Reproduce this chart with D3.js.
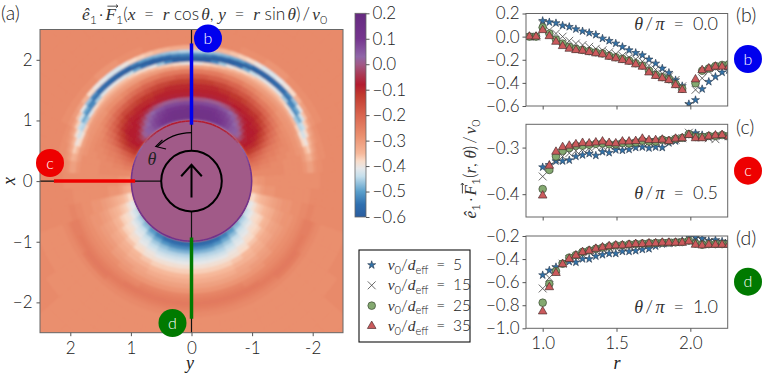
<!DOCTYPE html>
<html lang="en">
<head>
<meta charset="UTF-8">
<title>Force map</title>
<script src="https://d3js.org/d3.v7.min.js"></script>
<style>
  html, body { margin: 0; padding: 0; background: #fff; }
  svg { display: block; }
  text { font-family: Lato, "Open Sans", sans-serif; font-weight: 300; fill: #222; }
  .axis text { font-size: 17px; }
  .axis line, .axis path { stroke: #555; stroke-width: 1; }
</style>
</head>
<body>
<svg width="763" height="374"></svg>
<script>
// radial cuts, shared by the three right panels
const rValues = [0.91,0.955,1.0,1.045,1.09,1.135,1.18,1.225,1.27,1.315,1.36,1.405,1.45,1.495,1.54,1.585,1.63,1.675,1.72,1.765,1.81,1.855,1.9,1.945,1.99,2.035,2.08,2.125,2.17,2.215,2.26];

// panel b, theta/pi = 0
const b5  = [0,0,.137,.125,.117,.096,.085,.065,.047,.033,.016,-.016,-.036,-.059,-.088,-.117,-.14,-.16,-.197,-.232,-.275,-.312,-.376,-.427,-.583,-.548,-.453,-.39,-.347,-.309,-.29];
const b15 = [0,0,.108,.056,.027,0,-.036,-.059,-.073,-.088,-.105,-.118,-.135,-.15,-.165,-.18,-.195,-.215,-.25,-.285,-.32,-.345,-.375,-.43,-.6,-.46,-.36,-.30,-.275,-.26,-.25];
const b25 = [0,0,.08,.027,-.025,-.06,-.088,-.105,-.115,-.125,-.135,-.145,-.165,-.178,-.192,-.207,-.23,-.25,-.295,-.33,-.35,-.368,-.41,-.45,-.65,-.404,-.295,-.275,-.255,-.245,-.24];
const b35 = [0,0,.056,.004,-.045,-.082,-.105,-.117,-.122,-.134,-.145,-.154,-.174,-.188,-.203,-.217,-.24,-.26,-.31,-.34,-.36,-.376,-.42,-.462,-.65,-.37,-.29,-.275,-.26,-.26,-.26];

// panel c, theta/pi = 0.5
const c5  = [0,0,-.342,-.337,-.329,-.329,-.327,-.319,-.316,-.313,-.317,-.309,-.311,-.305,-.306,-.304,-.30,-.299,-.301,-.299,-.30,-.29,-.286,-.28,-.271,-.269,-.273,-.277,-.274,-.274,-.275];
const c15 = [0,0,-.362,-.344,-.326,-.319,-.312,-.307,-.304,-.301,-.298,-.297,-.296,-.295,-.293,-.292,-.29,-.289,-.288,-.288,-.287,-.285,-.283,-.28,-.268,-.273,-.278,-.28,-.282,-.276,-.275];
const c25 = [0,0,-.389,-.348,-.319,-.307,-.301,-.296,-.296,-.294,-.292,-.291,-.293,-.293,-.29,-.291,-.289,-.285,-.287,-.287,-.283,-.285,-.281,-.279,-.271,-.277,-.277,-.275,-.275,-.273,-.275];
const c35 = [0,0,-.403,-.339,-.309,-.299,-.296,-.293,-.29,-.291,-.289,-.287,-.29,-.291,-.287,-.287,-.286,-.281,-.284,-.284,-.283,-.286,-.281,-.28,-.273,-.28,-.28,-.276,-.274,-.273,-.276];

// panel d, theta/pi = 1
const d5  = [0,0,-.539,-.498,-.469,-.439,-.422,-.428,-.399,-.399,-.375,-.363,-.352,-.352,-.334,-.334,-.328,-.317,-.311,-.288,-.27,-.264,-.253,-.241,-.206,-.212,-.223,-.241,-.235,-.247,-.25];
const d15 = [0,0,-.655,-.562,-.489,-.44,-.40,-.38,-.36,-.34,-.33,-.315,-.305,-.30,-.295,-.29,-.28,-.275,-.27,-.265,-.262,-.26,-.255,-.25,-.225,-.23,-.245,-.25,-.255,-.26,-.26];
const d25 = [0,0,-.778,-.615,-.504,-.44,-.387,-.365,-.338,-.325,-.31,-.30,-.29,-.28,-.278,-.272,-.268,-.265,-.262,-.26,-.258,-.256,-.255,-.252,-.24,-.265,-.275,-.27,-.27,-.27,-.27];
const d35 = [0,0,-.854,-.644,-.521,-.445,-.399,-.369,-.34,-.328,-.311,-.299,-.288,-.282,-.282,-.276,-.27,-.27,-.264,-.264,-.258,-.258,-.258,-.258,-.247,-.276,-.282,-.276,-.276,-.276,-.276];

const speeds = ["5", "15", "25", "35"];

// heat map read in polar form: angle from +x, rings in r, mirrored in y
const thetaRows = [0,3.75,7.5,11.25,15,18.75,22.5,26.25,30,33.75,37.5,41.25,45,48.75,52.5,56.25,60,63.75,67.5,71.25,75,78.75,82.5,90,97.5,105,112.5,120,127.5,135,142.5,150,157.5,165,172.5,180];
const ringEdges = [1.0,1.03,1.09,1.15,1.21,1.27,1.33,1.39,1.46,1.54,1.62,1.7,1.78,1.86,1.925,1.975,2.025,2.075,2.125,2.175,2.25,2.375,2.525,2.7,2.9,3.15,3.45,3.8];
const fieldRows = [
  [.06,.14,.14,.13,.11,.07,0,-.07,-.09,-.10,-.13,-.18,-.24,-.31,-.40,-.60,-.58,-.52,-.45,-.33,-.27,-.27,-.27,-.27,-.27,-.27,-.27],
  [.06,.14,.14,.13,.11,.07,0,-.07,-.09,-.10,-.13,-.18,-.24,-.31,-.40,-.60,-.58,-.52,-.45,-.33,-.27,-.27,-.27,-.27,-.27,-.27,-.27],
  [.06,.14,.14,.13,.11,.07,0,-.07,-.09,-.10,-.13,-.18,-.24,-.31,-.38,-.58,-.60,-.53,-.46,-.33,-.27,-.27,-.27,-.27,-.27,-.27,-.27],
  [.06,.14,.14,.13,.10,.07,.01,-.07,-.09,-.10,-.13,-.19,-.24,-.30,-.37,-.52,-.60,-.55,-.47,-.34,-.27,-.27,-.27,-.27,-.27,-.27,-.27],
  [.05,.14,.14,.13,.10,.07,.01,-.07,-.09,-.10,-.14,-.19,-.24,-.30,-.36,-.46,-.60,-.57,-.48,-.35,-.27,-.27,-.27,-.27,-.27,-.27,-.27],
  [.05,.13,.13,.12,.10,.07,.01,-.07,-.09,-.11,-.14,-.19,-.25,-.30,-.35,-.41,-.59,-.59,-.49,-.36,-.27,-.27,-.27,-.27,-.27,-.27,-.27],
  [.04,.12,.12,.11,.09,.06,0,-.07,-.09,-.11,-.15,-.20,-.25,-.30,-.34,-.39,-.55,-.60,-.50,-.37,-.28,-.27,-.27,-.27,-.27,-.27,-.27],
  [.04,.11,.10,.09,.08,.05,-.01,-.07,-.10,-.12,-.16,-.20,-.25,-.30,-.33,-.38,-.49,-.60,-.53,-.38,-.28,-.27,-.27,-.27,-.27,-.27,-.27],
  [.03,.09,.09,.08,.06,.03,-.03,-.08,-.10,-.12,-.17,-.21,-.26,-.30,-.33,-.37,-.44,-.60,-.56,-.40,-.28,-.27,-.27,-.27,-.27,-.27,-.27],
  [.03,.07,.07,.06,.04,.01,-.05,-.08,-.10,-.13,-.17,-.22,-.26,-.30,-.33,-.36,-.42,-.59,-.57,-.42,-.29,-.27,-.27,-.27,-.27,-.27,-.27],
  [.02,.05,.05,.03,.01,-.03,-.07,-.09,-.10,-.14,-.18,-.23,-.27,-.30,-.33,-.36,-.41,-.58,-.57,-.42,-.29,-.27,-.27,-.27,-.27,-.27,-.27],
  [0,.04,.04,.01,-.03,-.06,-.08,-.09,-.11,-.15,-.19,-.24,-.28,-.30,-.33,-.36,-.41,-.57,-.56,-.41,-.29,-.27,-.27,-.27,-.27,-.27,-.27],
  [-.03,.02,.01,-.03,-.07,-.08,-.08,-.09,-.11,-.15,-.20,-.24,-.28,-.30,-.33,-.36,-.42,-.56,-.55,-.40,-.28,-.27,-.27,-.27,-.27,-.27,-.27],
  [-.05,-.02,-.04,-.07,-.08,-.08,-.09,-.10,-.13,-.17,-.21,-.25,-.28,-.30,-.33,-.37,-.46,-.55,-.52,-.38,-.28,-.27,-.27,-.27,-.27,-.27,-.27],
  [-.08,-.07,-.07,-.08,-.08,-.08,-.09,-.11,-.15,-.19,-.23,-.26,-.29,-.30,-.33,-.39,-.52,-.53,-.47,-.34,-.28,-.27,-.27,-.27,-.27,-.27,-.27],
  [-.09,-.08,-.08,-.08,-.09,-.10,-.12,-.14,-.18,-.21,-.24,-.27,-.29,-.30,-.34,-.42,-.52,-.49,-.41,-.31,-.28,-.27,-.27,-.27,-.27,-.27,-.27],
  [-.10,-.10,-.10,-.10,-.11,-.13,-.15,-.18,-.21,-.23,-.26,-.28,-.29,-.30,-.35,-.46,-.49,-.43,-.36,-.30,-.28,-.27,-.27,-.27,-.27,-.27,-.27],
  [-.13,-.12,-.13,-.14,-.15,-.17,-.19,-.21,-.23,-.25,-.27,-.28,-.29,-.30,-.37,-.45,-.44,-.37,-.32,-.29,-.28,-.27,-.27,-.27,-.27,-.27,-.27],
  [-.17,-.17,-.18,-.19,-.20,-.22,-.23,-.24,-.25,-.26,-.27,-.28,-.29,-.31,-.39,-.43,-.39,-.33,-.30,-.28,-.27,-.27,-.27,-.27,-.27,-.27,-.27],
  [-.20,-.20,-.21,-.22,-.23,-.24,-.25,-.25,-.26,-.27,-.27,-.28,-.29,-.31,-.38,-.40,-.35,-.31,-.29,-.28,-.27,-.27,-.27,-.27,-.27,-.27,-.27],
  [-.22,-.23,-.23,-.24,-.25,-.25,-.26,-.26,-.27,-.27,-.28,-.28,-.29,-.30,-.35,-.37,-.33,-.30,-.28,-.28,-.27,-.27,-.27,-.27,-.27,-.27,-.27],
  [-.25,-.25,-.25,-.26,-.26,-.26,-.27,-.27,-.27,-.28,-.28,-.28,-.28,-.30,-.33,-.34,-.31,-.29,-.28,-.28,-.27,-.27,-.27,-.27,-.27,-.27,-.27],
  [-.28,-.27,-.27,-.27,-.27,-.27,-.27,-.27,-.27,-.28,-.28,-.28,-.28,-.29,-.31,-.31,-.29,-.28,-.28,-.27,-.27,-.27,-.27,-.27,-.27,-.27,-.27],
  [-.31,-.30,-.29,-.29,-.28,-.28,-.28,-.28,-.28,-.28,-.28,-.28,-.28,-.28,-.28,-.28,-.28,-.28,-.27,-.27,-.27,-.27,-.27,-.27,-.27,-.27,-.27],
  [-.34,-.33,-.32,-.30,-.29,-.29,-.29,-.28,-.28,-.28,-.28,-.28,-.28,-.28,-.28,-.27,-.27,-.27,-.27,-.27,-.27,-.27,-.27,-.27,-.27,-.27,-.27],
  [-.38,-.38,-.36,-.35,-.34,-.33,-.32,-.31,-.30,-.29,-.29,-.28,-.28,-.27,-.27,-.26,-.26,-.27,-.27,-.27,-.27,-.27,-.27,-.27,-.27,-.27,-.27],
  [-.42,-.41,-.39,-.37,-.36,-.35,-.34,-.33,-.31,-.30,-.29,-.29,-.28,-.27,-.26,-.25,-.25,-.25,-.26,-.27,-.28,-.28,-.28,-.27,-.27,-.27,-.27],
  [-.45,-.43,-.41,-.39,-.38,-.37,-.35,-.34,-.32,-.31,-.30,-.29,-.28,-.27,-.26,-.25,-.24,-.25,-.26,-.27,-.28,-.28,-.28,-.27,-.27,-.27,-.27],
  [-.48,-.45,-.43,-.41,-.39,-.38,-.37,-.35,-.33,-.32,-.30,-.29,-.28,-.27,-.26,-.25,-.24,-.24,-.25,-.27,-.28,-.28,-.28,-.28,-.27,-.27,-.27],
  [-.50,-.47,-.44,-.42,-.41,-.39,-.38,-.36,-.34,-.33,-.31,-.30,-.28,-.27,-.26,-.25,-.24,-.24,-.25,-.27,-.28,-.28,-.28,-.28,-.28,-.28,-.28],
  [-.53,-.50,-.47,-.44,-.42,-.41,-.39,-.38,-.35,-.34,-.32,-.30,-.29,-.27,-.26,-.25,-.24,-.25,-.26,-.27,-.28,-.28,-.28,-.28,-.28,-.28,-.28],
  [-.55,-.53,-.49,-.46,-.44,-.42,-.40,-.39,-.36,-.34,-.32,-.31,-.29,-.27,-.26,-.24,-.24,-.25,-.26,-.27,-.28,-.28,-.28,-.28,-.28,-.28,-.28],
  [-.57,-.55,-.51,-.47,-.45,-.43,-.41,-.39,-.37,-.35,-.33,-.31,-.29,-.26,-.25,-.24,-.24,-.25,-.26,-.27,-.28,-.28,-.28,-.28,-.28,-.28,-.28],
  [-.58,-.56,-.52,-.48,-.45,-.43,-.41,-.39,-.37,-.35,-.33,-.31,-.29,-.26,-.25,-.24,-.24,-.25,-.26,-.27,-.28,-.28,-.28,-.28,-.28,-.28,-.28],
  [-.58,-.56,-.52,-.48,-.45,-.43,-.41,-.39,-.37,-.35,-.33,-.31,-.29,-.26,-.25,-.24,-.24,-.25,-.26,-.27,-.28,-.28,-.28,-.28,-.28,-.28,-.28],
  [-.58,-.56,-.52,-.48,-.45,-.43,-.41,-.39,-.37,-.35,-.33,-.31,-.29,-.26,-.25,-.24,-.24,-.25,-.26,-.27,-.28,-.28,-.28,-.28,-.28,-.28,-.28]
];
// thin rim of the excluded disc
const rimValues = [-.08,-.08,-.08,-.08,-.08,-.08,-.08,-.08,-.07,-.07,-.06,-.05,-.04,-.02,0,.02,.04,.05,.07,.08,.1,.1,.11,.12,.12,.12,.12,.12,.12,.12,.12,.12,.12,.12,.12,.12];

const colorStops  = [-.6,-.55,-.5,-.44,-.41,-.38,-.35,-.28,-.2,-.12,-.08,-.04,0,.03,.1,.2];
const colorValues = ["#2a5d9e","#2f70b0","#5a9fcb","#c5dfec","#e5e8ea","#f9dcc9","#f6b89a","#ea8f6e","#d9654f","#c0392f","#b31b2f","#aa3a55","#a15a88","#8f66a8","#75358e","#652a80"];

const fieldTicks = [2, 1, 0, -1, -2];
const barTicks = [.2, .1, 0, -.1, -.2, -.3, -.4, -.5, -.6];
const rTicks = [1, 1.5, 2];

const svg = d3.select("svg");
const color = d3.scaleLinear().domain(colorStops).range(colorValues).clamp(true);
const fmtMinus = d => d3.format(".1f")(d).replace("-", "\u2212");
const serif = "'Liberation Serif', serif";

// math text helper, parts are [string, kind]. kind "F" gets a small arrow over it
function addParts(parent, x, y, size, anchor, parts) {
  const t = parent.append("text").attr("x", x).attr("y", y).attr("text-anchor", anchor).style("font-size", size + "px");
  let shift = 0, count = 0, arrowAt = -1;
  parts.forEach(([s, kind]) => {
    const span = t.append("tspan").text(s);
    const isSub = kind === "sub";
    const want = isSub ? 3.5 : 0;
    span.attr("dy", want - shift);
    shift = want;
    if (isSub) span.style("font-size", "0.72em");
    if (kind === "i" || kind === "F") span.style("font-family", serif).style("font-style", "italic").style("font-weight", 400).style("fill", "#333");
    if (kind === "F") arrowAt = count;
    count += s.length;
  });
  if (arrowAt >= 0) {
    const a = t.node().getStartPositionOfChar(arrowAt), b = t.node().getEndPositionOfChar(arrowAt);
    const top = a.y - size * 0.8, x0 = a.x + 2, x1 = b.x + 2;
    parent.append("path").attr("fill", "none").attr("stroke", "#222").attr("stroke-width", .8)
      .attr("d", `M${x0},${top}L${x1},${top}M${x1 - 2},${top - 1.6}L${x1},${top}L${x1 - 2},${top + 1.6}`);
  }
  return t;
}

// ---------- heat map
const fx = { left: 40, right: 343, top: 29.5, bottom: 332.7 };
const yScale = d3.scaleLinear().domain([2.5, -2.5]).range([fx.left, fx.right]);
const xScale = d3.scaleLinear().domain([2.5, -2.5]).range([fx.top, fx.bottom]);
const rPx = d3.scaleLinear().domain([0, 2.5]).range([0, (fx.right - fx.left) / 2]);

svg.append("clipPath").attr("id", "fieldClip").append("rect")
  .attr("x", fx.left).attr("y", fx.top).attr("width", fx.right - fx.left).attr("height", fx.bottom - fx.top);
svg.append("filter").attr("id", "soft").attr("x", "-5%").attr("y", "-5%").attr("width", "110%").attr("height", "110%")
  .append("feGaussianBlur").attr("stdDeviation", 1.2);

const heat = svg.append("g").attr("clip-path", "url(#fieldClip)")
  .append("g").attr("filter", "url(#soft)")
  .attr("transform", `translate(${yScale(0)},${xScale(0)})`);
const arc = d3.arc();
// wedge limits half way to the next row, in radians
const wedge = i => {
  const lo = i === 0 ? 0 : (thetaRows[i - 1] + thetaRows[i]) / 2;
  const hi = i === thetaRows.length - 1 ? 180 : (thetaRows[i + 1] + thetaRows[i]) / 2;
  return [lo * Math.PI / 180, hi * Math.PI / 180];
};

heat.append("rect").attr("x", -170).attr("y", -170).attr("width", 340).attr("height", 340).attr("fill", color(-.27));
fieldRows.forEach((row, i) => {
  const [lo, hi] = wedge(i);
  row.forEach((v, j) => {
    [1, -1].forEach(side => {
      heat.append("path")
        .attr("d", arc({ innerRadius: rPx(ringEdges[j]), outerRadius: rPx(ringEdges[j + 1]), startAngle: side * lo, endAngle: side * hi }))
        .attr("fill", color(v)).attr("stroke", color(v)).attr("stroke-width", 0.6);
    });
  });
});

const disc = svg.append("g").attr("transform", `translate(${yScale(0)},${xScale(0)})`);
disc.append("circle").attr("r", rPx(1)).attr("fill", color(0));
rimValues.forEach((v, i) => {
  const [lo, hi] = wedge(i);
  [1, -1].forEach(side => {
    disc.append("path")
      .attr("d", arc({ innerRadius: rPx(.98), outerRadius: rPx(1.005), startAngle: side * lo, endAngle: side * hi }))
      .attr("fill", color(v));
  });
});

// guide lines
const guides = svg.append("g").attr("stroke", "#111").attr("stroke-width", 1.2).attr("fill", "none");
guides.append("line").attr("x1", yScale(0)).attr("x2", yScale(0)).attr("y1", xScale(2.5)).attr("y2", xScale(.5));
guides.append("line").attr("x1", yScale(0)).attr("x2", yScale(0)).attr("y1", xScale(-.5)).attr("y2", xScale(-2.5));
guides.append("line").attr("x1", yScale(2.5)).attr("x2", yScale(.5)).attr("y1", xScale(0)).attr("y2", xScale(0));

const cuts = [
  { c: "#0000ee", x1: .93, x2: 2.27, y1: 0, y2: 0 },
  { c: "#ee0000", x1: 0, x2: 0, y1: .93, y2: 2.27 },
  { c: "#007a00", x1: -.93, x2: -2.27, y1: 0, y2: 0 }
];
cuts.forEach(d => {
  svg.append("line").attr("stroke", d.c).attr("stroke-width", 3.5)
    .attr("x1", yScale(d.y1)).attr("x2", yScale(d.y2)).attr("y1", xScale(d.x1)).attr("y2", xScale(d.x2));
});

// swimmer sketch
const ink = svg.append("g").attr("fill", "none").attr("stroke", "#000");
ink.append("circle").attr("cx", yScale(0)).attr("cy", xScale(0)).attr("r", rPx(.5)).attr("stroke-width", 2);
ink.append("path").attr("stroke-width", 2)
  .attr("d", `M${yScale(0)},${xScale(-.27)}L${yScale(0)},${xScale(.27)}M${yScale(.17)},${xScale(.08)}L${yScale(0)},${xScale(.27)}L${yScale(-.17)},${xScale(.08)}`);
const thArc = d3.path();
thArc.arc(yScale(0), xScale(0), rPx(.8), -Math.PI / 2, -Math.PI * 3 / 4, true);
ink.append("path").attr("d", thArc.toString()).attr("stroke-width", 1.1);
ink.append("path").attr("stroke-width", 1.1)
  .attr("d", `M${yScale(.48)},${xScale(.68)}L${yScale(.59)},${xScale(.57)}L${yScale(.42)},${xScale(.53)}`);
svg.append("text").attr("x", 152).attr("y", 165).style("font-family", serif).style("font-weight", 400)
  .style("font-style", "italic").style("font-size", "18px").attr("text-anchor", "middle").text("\u03b8");

svg.append("rect").attr("x", fx.left).attr("y", fx.top).attr("width", fx.right - fx.left).attr("height", fx.bottom - fx.top)
  .attr("fill", "none").attr("stroke", "#666").attr("stroke-width", 1);

const leftAxis = svg.append("g").attr("class", "axis").attr("transform", `translate(${fx.left},0)`)
  .call(d3.axisLeft(xScale).tickValues(fieldTicks).tickSize(3.5).tickPadding(4).tickFormat(d => d < 0 ? "\u2212" + (-d) : d));
const botAxis = svg.append("g").attr("class", "axis").attr("transform", `translate(0,${fx.bottom})`)
  .call(d3.axisBottom(yScale).tickValues(fieldTicks).tickSize(3.5).tickPadding(6).tickFormat(d => d));
leftAxis.select(".domain").remove();
botAxis.select(".domain").remove();

// marked circles, three on the map and three by the panels
const badges = [
  { label: "b", c: "#0000ee", x: 208, y: 38.5 }, { label: "c", c: "#ee0000", x: 50, y: 163 }, { label: "d", c: "#007a00", x: 172.5, y: 323 },
  { label: "b", c: "#0000ee", x: 748, y: 59 }, { label: "c", c: "#ee0000", x: 748, y: 170.7 }, { label: "d", c: "#007a00", x: 748, y: 281.7 }
];
badges.forEach(d => {
  svg.append("circle").attr("cx", d.x).attr("cy", d.y).attr("r", 14).attr("fill", d.c);
  svg.append("text").attr("x", d.x).attr("y", d.y + 5.5).attr("text-anchor", "middle")
    .style("fill", "#fff").style("font-size", "16px").text(d.label);
});

// labels
[["(a)", 1, 20], ["(b)", 736, 22], ["(c)", 736, 134], ["(d)", 736, 245]].forEach(([s, x, y]) => {
  svg.append("text").attr("x", x).attr("y", y).style("font-size", "19.5px").text(s);
});
const eq = "\u2002=\u2002";
addParts(svg, 82, 20, 17.3, "start",
  [["\u00ea", "i"], ["1", "sub"], ["\u2009\u00b7\u2009", ""], ["F", "F"], ["1", "sub"], ["(", ""], ["x", "i"], [eq, ""], ["r", "i"], [" cos\u2009", ""], ["\u03b8", "i"], [", ", ""], ["y", "i"], [eq, ""], ["r", "i"], [" sin\u2009", ""], ["\u03b8", "i"], [")\u2009/\u2009", ""], ["v", "i"], ["0", "sub"]]);
svg.append("text").attr("x", 15).attr("y", 181).attr("transform", "rotate(-90 15 181)").attr("text-anchor", "middle")
  .style("font-family", serif).style("font-weight", 400).style("font-style", "italic").style("font-size", "18px").text("x");
svg.append("text").attr("x", 190).attr("y", 369).attr("text-anchor", "middle")
  .style("font-family", serif).style("font-weight", 400).style("font-style", "italic").style("font-size", "18px").text("y");

// ---------- colour bar
const bar = { x: 355, w: 11, top: 13.3, bottom: 217 };
const barScale = d3.scaleLinear().domain([-.6, .2]).range([bar.bottom, bar.top]);
const grad = svg.append("linearGradient").attr("id", "barGrad").attr("x1", 0).attr("x2", 0).attr("y1", 1).attr("y2", 0);
colorStops.forEach((s, i) => grad.append("stop").attr("offset", (s + .6) / .8).attr("stop-color", colorValues[i]));
svg.append("rect").attr("x", bar.x).attr("y", bar.top).attr("width", bar.w).attr("height", bar.bottom - bar.top)
  .attr("fill", "url(#barGrad)").attr("stroke", "#666").attr("stroke-width", .8);
const barAxis = svg.append("g").attr("class", "axis").attr("transform", `translate(${bar.x + bar.w},0)`)
  .call(d3.axisRight(barScale).tickValues(barTicks).tickSize(3.5).tickPadding(3).tickFormat(fmtMinus));
barAxis.select(".domain").remove();

// ---------- right panels
const panelX = d3.scaleLinear().domain([.887, 2.253]).range([526, 727.7]);
const panels = [
  { id: "b", series: [b5, b15, b25, b35], domain: [-.6, .2], top: 13.5, bottom: 106, ticks: [.2, 0, -.2, -.4, -.6], note: "0.0", noteY: 30, fmt: fmtMinus },
  { id: "c", series: [c5, c15, c25, c35], domain: [-.449, -.25], top: 124.3, bottom: 217, ticks: [-.3, -.4], note: "0.5", noteY: 199, fmt: d3.format(".1f") },
  { id: "d", series: [d5, d15, d25, d35], domain: [-1, -.2], top: 236, bottom: 328.3, ticks: [-.2, -.4, -.6, -.8, -1], note: "1.0", noteY: 313, fmt: fmtMinus }
];

const starPath = d3.symbol().type(d3.symbolStar).size(20)();
const timesPath = d3.symbol().type(d3.symbolTimes).size(42)();
const circlePath = d3.symbol().type(d3.symbolCircle).size(46)();
const trianglePath = d3.symbol().type(d3.symbolTriangle).size(32)();
const markers = [
  { d: starPath, fill: "#3272a8", stroke: "#26364a", sw: .6 },
  { d: timesPath, fill: "none", stroke: "#444", sw: .8 },
  { d: circlePath, fill: "#84a970", stroke: "#3c4a35", sw: .7 },
  { d: trianglePath, fill: "#cb5a5c", stroke: "#4d3030", sw: .7 }
];

panels.forEach(p => {
  const y = d3.scaleLinear().domain(p.domain).range([p.bottom, p.top]);
  svg.append("clipPath").attr("id", "clip" + p.id).append("rect")
    .attr("x", panelX.range()[0]).attr("y", p.top).attr("width", panelX.range()[1] - panelX.range()[0]).attr("height", p.bottom - p.top);
  const plot = svg.append("g").attr("clip-path", `url(#clip${p.id})`);
  p.series.forEach((vals, k) => {
    plot.append("g").selectAll("path").data(vals).join("path")
      .attr("d", markers[k].d)
      .attr("transform", (v, i) => `translate(${panelX(rValues[i])},${y(v)})`)
      .attr("fill", markers[k].fill).attr("stroke", markers[k].stroke).attr("stroke-width", markers[k].sw);
  });
  svg.append("rect").attr("x", panelX.range()[0]).attr("y", p.top).attr("width", panelX.range()[1] - panelX.range()[0]).attr("height", p.bottom - p.top)
    .attr("fill", "none").attr("stroke", "#666").attr("stroke-width", 1);
  const ax = svg.append("g").attr("class", "axis").attr("transform", `translate(${panelX.range()[0]},0)`)
    .call(d3.axisLeft(y).tickValues(p.ticks).tickSize(3.5).tickPadding(3).tickFormat(p.fmt));
  ax.select(".domain").remove();
  const bx = svg.append("g").attr("class", "axis").attr("transform", `translate(0,${p.bottom})`)
    .call(d3.axisBottom(panelX).tickValues(rTicks).tickSize(3.5).tickPadding(5).tickFormat(d3.format(".1f")));
  bx.select(".domain").remove();
  if (p.id !== "d") bx.selectAll("text").remove();
  addParts(svg, 718, p.noteY, 18, "end", [["\u03b8", "i"], ["\u2009/\u2009", ""], ["\u03c0", "i"], [eq + p.note, ""]]);
});
svg.append("text").attr("x", 617).attr("y", 369).attr("text-anchor", "middle")
  .style("font-family", serif).style("font-weight", 400).style("font-style", "italic").style("font-size", "18px").text("r");
addParts(svg.append("g").attr("transform", "translate(476,169) rotate(-90)"), 0, 0, 17, "middle",
  [["\u00ea", "i"], ["1", "sub"], ["\u2009\u00b7\u2009", ""], ["F", "F"], ["1", "sub"], ["(", ""], ["r", "i"], [", ", ""], ["\u03b8", "i"], [")\u2009/\u2009", ""], ["v", "i"], ["0", "sub"]]);

// ---------- legend
svg.append("rect").attr("x", 359).attr("y", 250).attr("width", 111).attr("height", 92)
  .attr("fill", "#fff").attr("stroke", "#111").attr("stroke-width", 1.1);
const legendY = d3.scalePoint().domain(speeds).range([265, 326]);
speeds.forEach((s, k) => {
  svg.append("path").attr("d", markers[k].d).attr("transform", `translate(371.7,${legendY(s)})`)
    .attr("fill", markers[k].fill).attr("stroke", markers[k].stroke).attr("stroke-width", markers[k].sw);
  addParts(svg, 387.7, legendY(s) + 5, 15.5, "start",
    [["v", "i"], ["0", "sub"], ["/", ""], ["d", "i"], ["eff", "sub"], [eq + s, ""]]);
});
</script>
</body>
</html>
